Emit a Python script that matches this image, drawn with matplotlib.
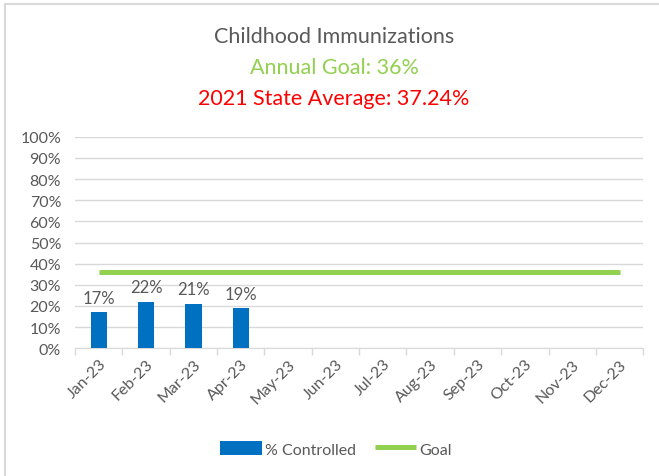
import matplotlib
matplotlib.use("Agg")
import matplotlib.pyplot as plt
from matplotlib.patches import Rectangle
from matplotlib.ticker import PercentFormatter

plt.rcParams['font.family'] = ['Lato', 'DejaVu Sans']

months = ["Jan-23", "Feb-23", "Mar-23", "Apr-23", "May-23", "Jun-23",
          "Jul-23", "Aug-23", "Sep-23", "Oct-23", "Nov-23", "Dec-23"]
controlled = [17, 22, 21, 19]
goal = [36] * 12
title = "Childhood Immunizations"
subtitle1 = "Annual Goal: 36%"
subtitle2 = "2021 State Average: 37.24%"

bar_color = "#0070C0"
goal_color = "#92D050"
text_gray = "#595959"

fig = plt.figure(figsize=(6.59, 4.77), dpi=100)
ax = fig.add_axes([0.114, 0.268, 0.862, 0.443])

x = list(range(len(months)))
bars = ax.bar(x[:len(controlled)], controlled, width=0.35, color=bar_color, label="% Controlled", zorder=3)
line, = ax.plot(x, goal, color=goal_color, linewidth=3.6, label="Goal", zorder=4, solid_capstyle="butt")

for xi, v in zip(x, controlled):
    ax.text(xi, v + 3, f"{v}%", ha="center", va="bottom", fontsize=12, color=text_gray)

ax.set_xlim(-0.5, len(months) - 0.5)
ax.set_ylim(0, 100)
ax.set_yticks(range(0, 101, 10))
ax.yaxis.set_major_formatter(PercentFormatter(decimals=0))
ax.set_xticks([i - 0.5 for i in range(len(months) + 1)], minor=False)
ax.set_xticklabels([""] * (len(months) + 1))
ax.set_xticks(x, minor=True)
ax.set_xticklabels(months, minor=True, rotation=45, ha="right", rotation_mode="anchor", fontsize=11.5, color=text_gray)
ax.tick_params(axis="x", which="minor", length=0, pad=6)
ax.tick_params(axis="x", which="major", length=5, color="#D9D9D9", width=1)
ax.tick_params(axis="y", length=0, labelsize=11.5, labelcolor=text_gray, pad=10)
ax.grid(axis="y", color="#D9D9D9", linewidth=1, zorder=0)
for s in ["top", "right", "left"]:
    ax.spines[s].set_visible(False)
ax.spines["bottom"].set_color("#D9D9D9")

fig.text(0.507, 0.922, title, ha="center", va="center", fontsize=15.5, color=text_gray)
fig.text(0.507, 0.857, subtitle1, ha="center", va="center", fontsize=15.5, color=goal_color)
fig.text(0.507, 0.792, subtitle2, ha="center", va="center", fontsize=15.5, color="#FF0000")

leg = fig.legend([bars, line], ["% Controlled", "Goal"], loc="center", bbox_to_anchor=(0.51, 0.057), ncol=2, frameon=False,
                 fontsize=11.5, handlelength=2.6, handleheight=1.0, handletextpad=0.2, columnspacing=1.2)
for t in leg.get_texts():
    t.set_color(text_gray)

fig.patches.append(Rectangle((0.008, -0.01), 1.1, 1.0, transform=fig.transFigure,
                             fill=False, edgecolor="#D9D9D9", linewidth=1.5))

fig.savefig("out.png", dpi=100)
